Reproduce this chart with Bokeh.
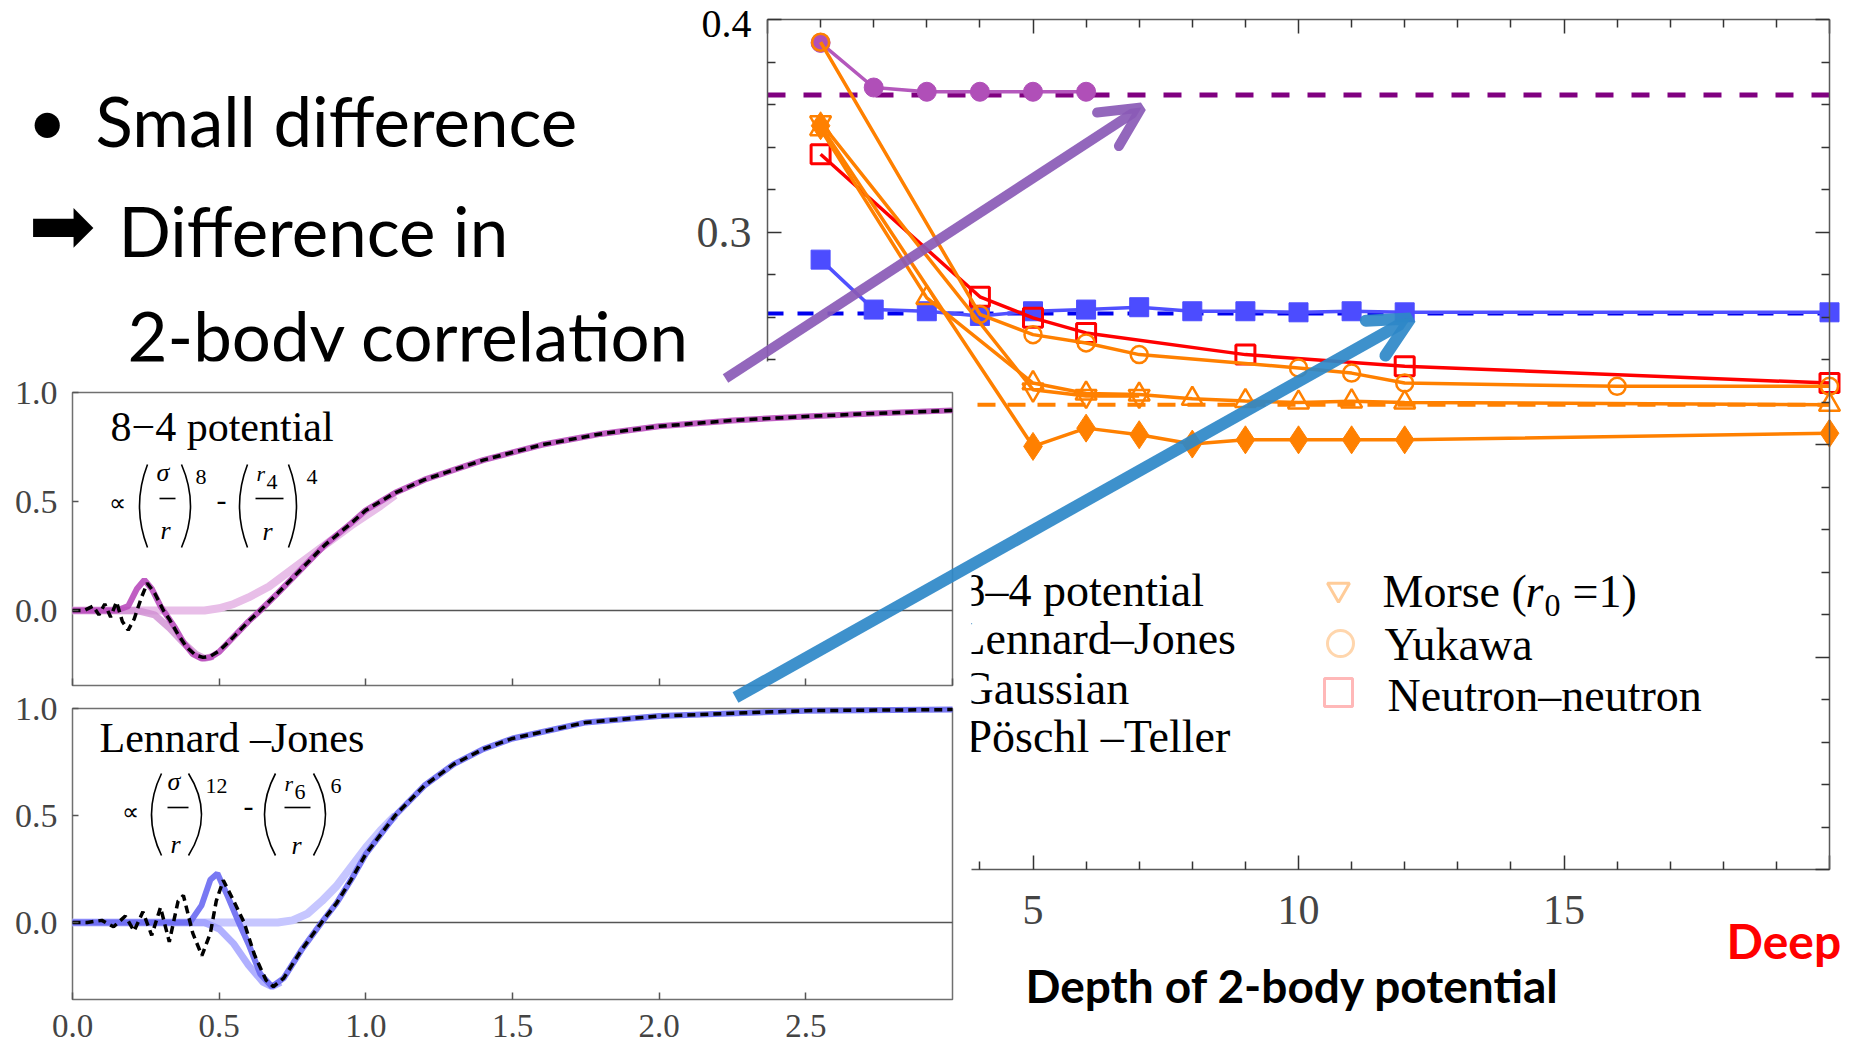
from bokeh.plotting import figure
from bokeh.models import (Range1d, LinearAxis, FixedTicker, Label, BoxAnnotation, Arrow, OpenHead,
                          NumeralTickFormatter)
from bokeh.embed import file_html
from bokeh.resources import INLINE

# ---------------- data: main chart (depth of 2-body potential vs value) ----------------
depth_84 = [1, 2, 3, 4, 5, 6]
val_84 = [0.389, 0.368, 0.366, 0.366, 0.366, 0.366]
depth_lj = [1, 2, 3, 4, 5, 6, 7, 8, 9, 10, 11, 12, 20]
val_lj = [0.287, 0.2635, 0.2627, 0.2605, 0.2627, 0.2635, 0.2646, 0.2627, 0.2627, 0.2622, 0.2627, 0.2622, 0.2622]
depth_nn = [1, 4, 5, 6, 9, 12, 20]
val_nn = [0.3366, 0.2695, 0.2596, 0.2525, 0.2423, 0.2368, 0.2289]
depth_yuk = [1, 4, 5, 6, 7, 10, 11, 12, 16, 20]
val_yuk = [0.3893, 0.2612, 0.2517, 0.2478, 0.2423, 0.2360, 0.2336, 0.2289, 0.2274, 0.2274]
depth_morse = [1, 5, 6, 7]
val_morse = [0.3516, 0.2258, 0.2228, 0.2228]
depth_gauss = [1, 3, 5, 6, 7, 8, 9, 10, 11, 12, 20]
val_gauss = [0.3484, 0.2690, 0.2289, 0.2240, 0.2235, 0.2215, 0.2205, 0.2198, 0.2203, 0.2198, 0.2187]
depth_pt = [1, 5, 6, 7, 8, 9, 10, 11, 12, 20]
val_pt = [0.3500, 0.1991, 0.2077, 0.2046, 0.2002, 0.2022, 0.2022, 0.2022, 0.2022, 0.2053]
ref_84 = 0.3645
ref_lj = 0.2616
ref_orange = 0.2187
ref_x = [0, 20]

main_x_major = [0, 5, 10, 15, 20]
main_x_minor = [1, 2, 3, 4, 6, 7, 8, 9, 11, 12, 13, 14, 16, 17, 18, 19]
main_x_labels = {0: "", 5: "5", 10: "10", 15: "15", 20: ""}
main_y_major = [0.0, 0.1, 0.2, 0.3, 0.4]
main_y_minor = [0.02, 0.04, 0.06, 0.08, 0.12, 0.14, 0.16, 0.18, 0.22, 0.24, 0.26, 0.28,
                0.32, 0.34, 0.36, 0.38]
main_y_labels = {0.0: "", 0.1: "", 0.2: "", 0.3: "0.3", 0.4: ""}
main_y_top_label = "0.4"

# ---------------- data: insets (2-body correlation vs r) ----------------
t_light_x = [0.0, 0.30, 0.45, 0.50, 0.55, 0.60, 0.67, 0.75, 0.85, 0.95, 1.05, 1.10]
t_light_y = [0.0, 0.0, 0.0, 0.01, 0.03, 0.06, 0.11, 0.19, 0.29, 0.39, 0.48, 0.53]
t_mid_x = [0.0, 0.22, 0.28, 0.33, 0.38, 0.42, 0.45, 0.48]
t_mid_y = [0.0, 0.0, -0.02, -0.08, -0.15, -0.20, -0.22, -0.21]
t_main_x = [0.0, 0.15, 0.19, 0.22, 0.245, 0.27, 0.30, 0.32, 0.35, 0.38, 0.41, 0.44, 0.47, 0.50,
            0.55, 0.60, 0.64, 0.70, 0.78, 0.86, 0.95, 1.0, 1.1, 1.2, 1.4, 1.6, 1.8, 2.0, 2.25,
            2.5, 2.75, 3.0]
t_main_y = [0.0, 0.0, 0.02, 0.10, 0.14, 0.10, 0.02, -0.02, -0.08, -0.15, -0.20, -0.22, -0.215,
            -0.19, -0.12, -0.05, 0.0, 0.08, 0.19, 0.30, 0.40, 0.46, 0.54, 0.60, 0.69, 0.76,
            0.81, 0.845, 0.872, 0.89, 0.905, 0.918]
t_dash_x = [0.0, 0.04, 0.07, 0.09, 0.11, 0.13, 0.15, 0.17, 0.19, 0.21, 0.235, 0.255, 0.28, 0.31,
            0.33, 0.36, 0.39, 0.42, 0.445, 0.47, 0.50, 0.55, 0.60, 0.64, 0.70, 0.78, 0.86, 0.95,
            1.0, 1.1, 1.2, 1.4, 1.6, 1.8, 2.0, 2.25, 2.5, 2.75, 3.0]
t_dash_y = [0.0, 0.0, 0.02, -0.02, 0.03, -0.03, 0.04, -0.05, -0.09, -0.04, 0.06, 0.125, 0.08,
            0.0, -0.04, -0.11, -0.17, -0.205, -0.215, -0.21, -0.185, -0.12, -0.05, 0.0, 0.08,
            0.19, 0.30, 0.40, 0.46, 0.54, 0.60, 0.69, 0.76, 0.81, 0.845, 0.872, 0.89, 0.905, 0.918]

b_light_x = [0.0, 0.70, 0.75, 0.80, 0.85, 0.90, 0.95, 1.00, 1.05, 1.10]
b_light_y = [0.0, 0.0, 0.01, 0.04, 0.10, 0.17, 0.26, 0.35, 0.43, 0.50]
b_mid_x = [0.0, 0.45, 0.50, 0.55, 0.60, 0.65, 0.68, 0.71]
b_mid_y = [0.0, 0.0, -0.03, -0.10, -0.20, -0.28, -0.30, -0.28]
b_main_x = [0.0, 0.40, 0.44, 0.47, 0.494, 0.53, 0.567, 0.60, 0.64, 0.68, 0.72, 0.78, 0.849, 0.90,
            0.95, 1.0, 1.1, 1.2, 1.3, 1.4, 1.5, 1.75, 2.0, 2.5, 3.0]
b_main_y = [0.0, 0.0, 0.08, 0.20, 0.229, 0.12, 0.0, -0.10, -0.24, -0.30, -0.26, -0.13, 0.0, 0.09,
            0.20, 0.32, 0.50, 0.64, 0.74, 0.81, 0.86, 0.935, 0.965, 0.99, 0.995]
b_dash_x = [0.0, 0.05, 0.10, 0.14, 0.18, 0.21, 0.24, 0.27, 0.30, 0.33, 0.36, 0.378, 0.41, 0.441,
            0.47, 0.49, 0.514, 0.55, 0.585, 0.62, 0.66, 0.685, 0.72, 0.78, 0.849, 0.90, 0.95,
            1.0, 1.1, 1.2, 1.3, 1.4, 1.5, 1.75, 2.0, 2.5, 3.0]
b_dash_y = [0.0, 0.0, 0.01, -0.02, 0.03, -0.04, 0.05, -0.06, 0.07, -0.09, 0.10, 0.127, -0.05,
            -0.155, -0.05, 0.10, 0.197, 0.10, 0.0, -0.15, -0.27, -0.30, -0.26, -0.13, 0.0, 0.09,
            0.20, 0.32, 0.50, 0.64, 0.74, 0.81, 0.86, 0.935, 0.965, 0.99, 0.995]

inset_x_ticks = [0.0, 0.5, 1.0, 1.5, 2.0, 2.5, 3.0]
inset_x_label_ticks = [0.0, 0.5, 1.0, 1.5, 2.0, 2.5]
inset_y_ticks = [0.0, 0.5, 1.0]
top_ymin, bot_ymin = -0.344, -0.36

# ---------------- texts ----------------
bullet_lines = ["Small difference", "Difference in", "2-body correlation"]
legend_left = ["8–4 potential", "Lennard–Jones", "Gaussian", "Pöschl –Teller"]
legend_right = ["Yukawa", "Neutron–neutron"]
x_title = "Depth of 2-body potential"
deep_text = "Deep"

# ---------------- layout (pixels, measured from the top-left corner) ----------------
W, H = 1858, 1048
SERIF = "Liberation Serif"
SANS = "Lato"
BASE_SHIFT = 0.36   # Bokeh places "alphabetic" text slightly low; lift by this fraction of size


def xr(v0, p0, v1, p1):
    k = (p1 - p0) / (v1 - v0)
    s = v0 - p0 / k
    return Range1d(start=s, end=s + W / k)


def yr(v0, p0, v1, p1):
    k = (p0 - p1) / (v1 - v0)
    s = v0 - (H - p0) / k
    return Range1d(start=s, end=s + H / k)


p = figure(width=W, height=H, x_range=xr(0, 767, 20, 1829), y_range=yr(0.0, 869, 0.4, 19),
           x_axis_type=None, y_axis_type=None, toolbar_location=None, output_backend="svg",
           min_border=0, outline_line_color=None, background_fill_color="white",
           border_fill_color="white")
p.extra_x_ranges = {"px": Range1d(0, W), "ins": xr(0.0, 72, 3.0, 952)}
p.extra_y_ranges = {"px": Range1d(H, 0), "top": yr(0.0, 610, 1.0, 392), "bot": yr(0.0, 922, 1.0, 708)}


def label(x, y, text, size, font=SERIF, color="black", style="normal", align="left",
          baseline="alphabetic"):
    shift = BASE_SHIFT * size if baseline == "alphabetic" else 0
    p.add_layout(Label(x=x, y=y - shift, x_range_name="px", y_range_name="px",
                       text=text, text_font=font, text_font_size=f"{size}px", text_color=color,
                       text_font_style=style, text_align=align, text_baseline=baseline))


def blank(ticks):
    return {t: "" for t in ticks}


# ---------------- main chart glyphs ----------------
ORANGE = "#FF8000"
p.line(ref_x, [ref_orange, ref_orange], line_color=ORANGE, line_width=4, line_dash="18 12")
p.line(ref_x, [ref_lj, ref_lj], line_color="#0000EE", line_width=4, line_dash="16 14")
p.line(ref_x, [ref_84, ref_84], line_color="#800080", line_width=5, line_dash="18 18")

p.line(depth_lj, val_lj, line_color="#5050FF", line_width=3.5)
p.scatter(depth_lj, val_lj, marker="square", size=19, fill_color="#4C4CFF", line_color="#4C4CFF")
p.line(depth_84, val_84, line_color="#B458BC", line_width=3.5)
p.scatter(depth_84, val_84, marker="circle", size=19, fill_color="#B04FB8", line_color="#B04FB8")

p.line(depth_nn, val_nn, line_color="#FF0000", line_width=3.5)
p.scatter(depth_nn, val_nn, marker="square", size=19, fill_color=None, line_color="#FF0000", line_width=3)

p.line(depth_pt, val_pt, line_color=ORANGE, line_width=3.5)
p.scatter(depth_pt, val_pt, marker="diamond", size=28, fill_color=ORANGE, line_color=ORANGE)
p.line(depth_gauss, val_gauss, line_color=ORANGE, line_width=3.5)
p.scatter(depth_gauss, val_gauss, marker="triangle", size=21, fill_color=None, line_color=ORANGE, line_width=2.5)
p.line(depth_morse, val_morse, line_color=ORANGE, line_width=3.5)
p.scatter(depth_morse, val_morse, marker="inverted_triangle", size=21, fill_color=None, line_color=ORANGE, line_width=2.5)
p.line(depth_yuk, val_yuk, line_color=ORANGE, line_width=3.5)
p.scatter(depth_yuk, val_yuk, marker="circle", size=17, fill_color=None, line_color=ORANGE, line_width=2.5)

# ---------------- main chart axes (box with inward ticks) ----------------
AX = dict(axis_line_color="#5a5a5a", axis_line_width=1.5, major_tick_line_color="#333333",
          minor_tick_line_color="#333333", major_tick_line_width=1.5, minor_tick_line_width=1.5,
          major_tick_out=0, minor_tick_out=0, major_label_text_font=SERIF)
yt = FixedTicker(ticks=main_y_major, minor_ticks=main_y_minor)
xt = FixedTicker(ticks=main_x_major, minor_ticks=main_x_minor)
p.add_layout(LinearAxis(fixed_location=0, bounds=(0, 0.4), ticker=yt, major_tick_in=14,
                        minor_tick_in=8, major_label_standoff=16,
                        major_label_overrides=main_y_labels,
                        major_label_text_font_size="44px", **AX), "left")
p.add_layout(LinearAxis(fixed_location=20, bounds=(0, 0.4), ticker=yt, major_tick_in=14,
                        minor_tick_in=8, major_label_overrides=blank(main_y_major), **AX), "right")
p.add_layout(LinearAxis(fixed_location=0.4, bounds=(0, 20), ticker=xt, major_tick_in=14,
                        minor_tick_in=8, major_label_overrides=blank(main_x_major), **AX), "above")
p.add_layout(LinearAxis(fixed_location=0.0, bounds=(0, 20), ticker=xt, major_tick_in=14,
                        minor_tick_in=8, major_label_standoff=26,
                        major_label_overrides=main_x_labels,
                        major_label_text_font_size="42px", **AX), "below")
label(751, 10, main_y_top_label, 40, align="right", baseline="top")

# ---------------- slide texts under the inset cover ----------------
label(27, 143, "•", 68, font=SANS)
label(95, 145, bullet_lines[0], 69, font=SANS)
label(28, 254, "➡", 80, font="DejaVu Sans")
label(118, 255, bullet_lines[1], 69, font=SANS)
label(127, 360, bullet_lines[2], 69, font=SANS)

# main legend (left column is partly hidden by the inset panel)
for txt, lx, by in zip(legend_left, [962, 957, 960, 966], [607, 655, 705, 753]):
    label(lx, by, txt, 46)

# right legend column (faded swatches)
p.scatter([1338], [589], x_range_name="px", y_range_name="px", marker="inverted_triangle",
          size=22, fill_color=None, line_color="#FFCC99", line_width=3)
p.scatter([1340], [643], x_range_name="px", y_range_name="px", marker="circle",
          size=26, fill_color=None, line_color="#FFD6AD", line_width=3)
p.scatter([1338], [692], x_range_name="px", y_range_name="px", marker="square",
          size=28, fill_color=None, line_color="#FFB8B8", line_width=3)
label(1382, 608, "Morse (", 46)
label(1525, 608, "r", 46, style="italic")
label(1544, 617, "0", 32)
label(1572, 608, "=1)", 46)
label(1384, 661, legend_right[0], 46)
label(1387, 712, legend_right[1], 46)

label(1025, 1002, x_title, 46, font=SANS, style="bold")
label(1726, 957, deep_text, 48, font=SANS, color="#FF0000", style="bold")

# ---------------- white panel of the insets ----------------
p.add_layout(BoxAnnotation(left=0, right=971, top=361, bottom=H, x_range_name="px",
                           y_range_name="px", fill_color="white", fill_alpha=1.0,
                           line_color=None))

# ---------------- insets ----------------
for yname, ymin in (("top", top_ymin), ("bot", bot_ymin)):
    p.quad(left=0, right=3.0, bottom=ymin, top=1.0, x_range_name="ins", y_range_name=yname,
           fill_color=None, line_color="#707070", line_width=1.5, level="overlay")
    p.line([0, 3.0], [0, 0], x_range_name="ins", y_range_name=yname, line_color="#555555",
           line_width=1.5, level="overlay")

ins_kw = dict(x_range_name="ins", level="overlay")
p.line(t_light_x, t_light_y, y_range_name="top", line_color="#E8BEE8", line_width=8, **ins_kw)
p.line(t_mid_x, t_mid_y, y_range_name="top", line_color="#CF8FD2", line_width=7, line_alpha=0.8, **ins_kw)
p.line(t_main_x, t_main_y, y_range_name="top", line_color="#B94CBC", line_width=6, line_alpha=0.9, **ins_kw)
p.line(t_dash_x, t_dash_y, y_range_name="top", line_color="black", line_width=3.5, line_dash="8 5", **ins_kw)

p.line(b_light_x, b_light_y, y_range_name="bot", line_color="#C6C6FF", line_width=8, **ins_kw)
p.line(b_mid_x, b_mid_y, y_range_name="bot", line_color="#9C9CFF", line_width=7, line_alpha=0.8, **ins_kw)
p.line(b_main_x, b_main_y, y_range_name="bot", line_color="#6A6AF2", line_width=6, line_alpha=0.9, **ins_kw)
p.line(b_dash_x, b_dash_y, y_range_name="bot", line_color="black", line_width=3.5, line_dash="8 5", **ins_kw)

IAX = dict(x_range_name="ins", axis_line_color=None, major_tick_line_color="#555555",
           major_tick_line_width=1.5, major_tick_out=0, minor_tick_in=0, minor_tick_out=0,
           major_label_text_font=SERIF, level="overlay",
           formatter=NumeralTickFormatter(format="0.0"))
for yname, ymin, show_x in (("top", top_ymin, False), ("bot", bot_ymin, True)):
    p.add_layout(LinearAxis(y_range_name=yname, fixed_location=0, bounds=(ymin, 1.0),
                            ticker=FixedTicker(ticks=inset_y_ticks, minor_ticks=[]),
                            major_tick_in=6, major_label_standoff=15,
                            major_label_text_font_size="34px", **IAX), "left")
    xticks = inset_x_label_ticks if show_x else inset_x_ticks
    extra = {} if show_x else {"major_label_overrides": blank(xticks)}
    p.add_layout(LinearAxis(y_range_name=yname, fixed_location=ymin, bounds=(0, 3.0),
                            ticker=FixedTicker(ticks=xticks, minor_ticks=[]),
                            major_tick_in=7, major_label_standoff=15,
                            major_label_text_font_size="33px", **extra, **IAX), "below")

# inset titles and formulas
label(110, 442, "8−4 potential", 42)
label(99, 753, "Lennard –Jones", 42)

PX = dict(x_range_name="px", y_range_name="px", line_color="black", line_width=1.6, level="overlay")
# top formula: ∝ (σ/r)^8 − (r4/r)^4
label(108, 511, "∝", 24)
label(156, 481, "σ", 26, style="italic")
label(160, 539, "r", 26, style="italic")
label(195, 484, "8", 22)
label(216, 511, "-", 30)
label(256, 481, "r", 22, style="italic")
label(266, 489, "4", 22)
label(262, 540, "r", 26, style="italic")
label(306, 484, "4", 22)
p.segment(x0=[159, 255], y0=[498, 498], x1=[175, 283], y1=[498, 498], **PX)
p.quadratic(x0=[147, 181, 247, 288], y0=[464] * 4, x1=[147, 181, 247, 288], y1=[547] * 4,
            cx=[131, 199, 231, 304], cy=[505.5] * 4, **PX)
# bottom formula: ∝ (σ/r)^12 − (r6/r)^6
label(121, 820, "∝", 24)
label(167, 790, "σ", 26, style="italic")
label(170, 853, "r", 26, style="italic")
label(205, 793, "12", 22)
label(243, 817, "-", 30)
label(284, 791, "r", 22, style="italic")
label(294, 799, "6", 22)
label(291, 854, "r", 26, style="italic")
label(330, 793, "6", 22)
p.segment(x0=[167, 284], y0=[807, 807], x1=[188, 310], y1=[807, 807], **PX)
p.quadratic(x0=[161, 188, 275, 313], y0=[773] * 4, x1=[161, 188, 275, 313], y1=[855] * 4,
            cx=[141, 214, 253, 337], cy=[814] * 4, **PX)

# ---------------- arrows ----------------
for (xs, ys, xe, ye, col, lw) in ((725, 378, 1141, 107, "#8A5AB6", 10),
                                  (735, 697, 1410, 318, "#2E88C8", 12)):
    p.add_layout(Arrow(end=OpenHead(size=40, line_width=lw, line_color=col, line_alpha=0.92,
                                    line_cap="round"),
                       x_start=xs, y_start=ys, x_end=xe, y_end=ye, line_width=lw,
                       line_color=col, line_alpha=0.92, x_range_name="px", y_range_name="px",
                       level="overlay"))

open("out.html", "w").write(file_html(p, INLINE))
